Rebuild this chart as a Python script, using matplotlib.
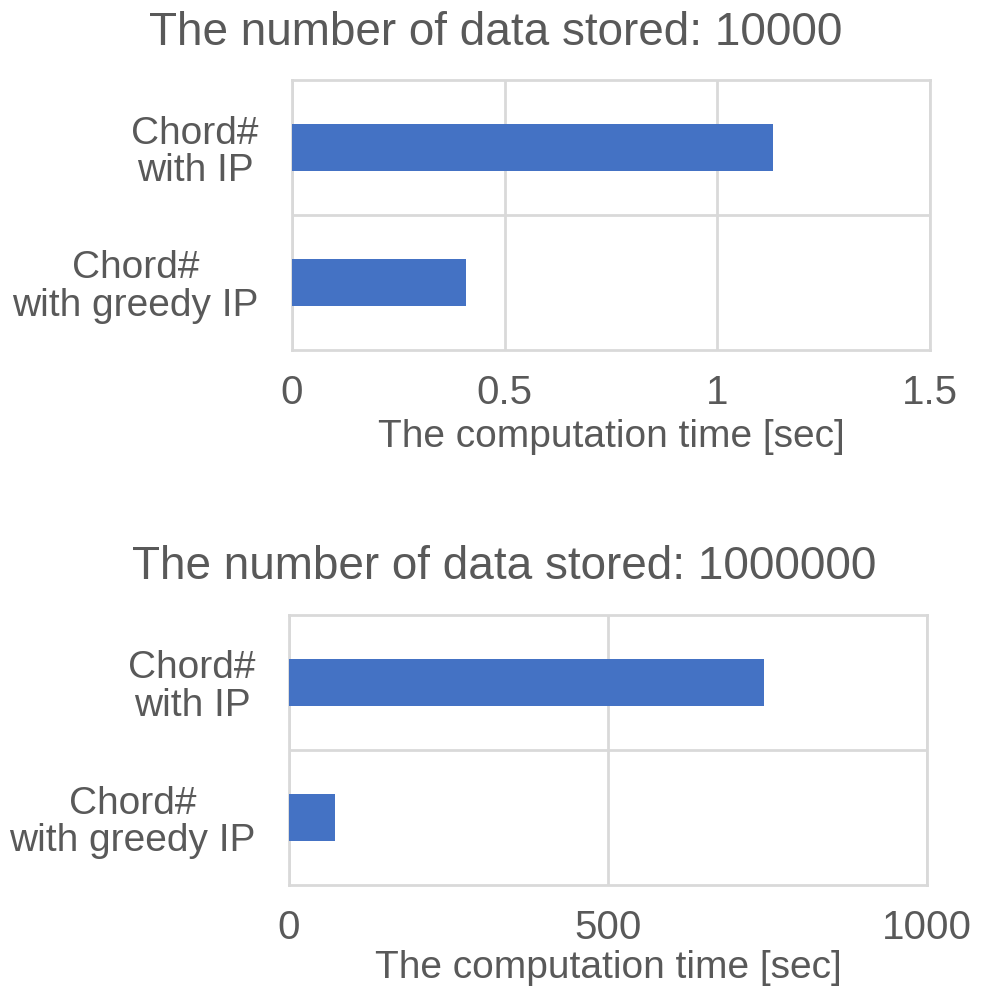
import matplotlib
matplotlib.use("Agg")
import matplotlib.pyplot as plt

plt.rcParams['font.family'] = ['Liberation Sans', 'DejaVu Sans']

categories = ["Chord#\nwith IP", "Chord#\nwith greedy IP"]
times_10000 = [1.13, 0.41]
times_1000000 = [744, 72]
titles = ["The number of data stored: 10000", "The number of data stored: 1000000"]
xlabel = "The computation time [sec]"
xticks_top = [0, 0.5, 1, 1.5]
xtick_labels_top = ["0", "0.5", "1", "1.5"]
xticks_bot = [0, 500, 1000]
xtick_labels_bot = ["0", "500", "1000"]

W, H = 982, 989
fig = plt.figure(figsize=(W/100, H/100), dpi=100)
text_color = "#595959"
grid_color = "#d9d9d9"
bar_color = "#4472c4"

def make(ax_rect, values, title, title_xy, xlabel_y, xticks, xticklabels, xmax):
    l, t, r, b = ax_rect
    ax = fig.add_axes([l/W, 1-b/H, (r-l)/W, (b-t)/H])
    y = [1, 0]
    ax.barh(y, values, height=0.35, color=bar_color, zorder=3)
    ax.set_xlim(0, xmax)
    ax.set_ylim(-0.5, 1.5)
    ax.set_xticks(xticks)
    ax.set_xticklabels(xticklabels)
    ax.set_yticks(y)
    ax.set_yticklabels(categories, multialignment='center', fontsize=28, linespacing=1.05)
    ax.set_yticks([0.5], minor=True)
    ax.grid(True, axis='x', color=grid_color, linewidth=2, zorder=0)
    ax.grid(True, axis='y', which='minor', color=grid_color, linewidth=2, zorder=0)
    ax.tick_params(axis='both', which='both', length=0, colors=text_color)
    ax.tick_params(axis='x', pad=17, labelsize=29)
    ax.tick_params(axis='y', pad=24)
    for s in ax.spines.values():
        s.set_color(grid_color)
        s.set_linewidth(2)
    fig.text(title_xy[0]/W, 1-title_xy[1]/H, title, fontsize=33, color=text_color,
             ha='center', va='center')
    fig.text((l+r)/2/W, 1-xlabel_y/H, xlabel, fontsize=28, color=text_color,
             ha='center', va='center')
    return ax

make((292, 80, 930, 350), times_10000, titles[0], (496, 33), 437,
     xticks_top, xtick_labels_top, 1.5)
make((289, 615, 927, 885), times_1000000, titles[1], (504, 567), 968,
     xticks_bot, xtick_labels_bot, 1000)

fig.savefig("out.png", dpi=100, facecolor="white")
